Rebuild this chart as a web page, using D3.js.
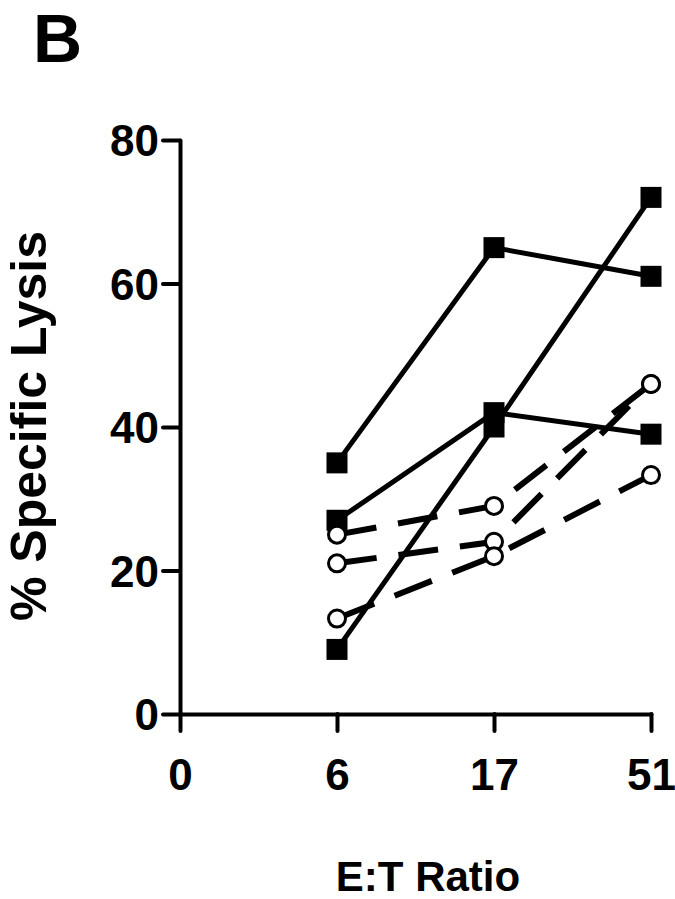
<!DOCTYPE html>
<html>
<head>
<meta charset="utf-8">
<script src="https://cdn.jsdelivr.net/npm/d3@7"></script>
<style>
  body { margin: 0; background: #fff; }
  svg text { font-family: "Liberation Sans", Arial, sans-serif; font-weight: bold; fill: #000; }
</style>
</head>
<body>
<svg id="chart"></svg>
<script>
// E:T ratios on the x axis (categorical spacing)
const ratios = ['0', '6', '17', '51'];
const yTicks = [0, 20, 40, 60, 80];

// filled squares, solid lines
const solidSeries = [
    [35, 65, 61],
    [27, 42, 39],
    [9, 40, 72]
];
// open circles, dashed lines
const dashedSeries = [
    [25, 29, 46],
    [21, 24, 46],
    [13.3, 22, 33.3]
];
const pointRatios = ['6', '17', '51'];

const width = 675, height = 899;
const svg = d3.select('#chart')
    .attr('width', width)
    .attr('height', height);

const xScale = d3.scalePoint()
    .domain(ratios)
    .range([180, 651]);

const yScale = d3.scaleLinear()
    .domain([0, 80])
    .range([714, 140]);

// axes
const xAxis = d3.axisBottom(xScale)
    .tickSize(17)
    .tickSizeOuter(0)
    .tickPadding(28);

const yAxis = d3.axisLeft(yScale)
    .tickValues(yTicks)
    .tickSize(17)
    .tickSizeOuter(0)
    .tickPadding(4);

const xAxisG = svg.append('g')
    .attr('transform', `translate(0,${yScale(0)})`)
    .call(xAxis);

const yAxisG = svg.append('g')
    .attr('transform', `translate(${xScale('0')},0)`)
    .call(yAxis);

[xAxisG, yAxisG].forEach(g => {
    g.selectAll('path, line')
        .attr('stroke', '#000')
        .attr('stroke-width', 4)
        .attr('stroke-linecap', 'round');
    g.selectAll('text')
        .style('font-size', '44px')
        .attr('fill', '#000');
});
yAxisG.selectAll('text').attr('dy', '0.36em');

// lines
const line = d3.line()
    .x((d, i) => xScale(pointRatios[i]))
    .y(d => yScale(d));

svg.append('g').selectAll('path')
    .data(dashedSeries)
    .join('path')
    .attr('d', line)
    .attr('fill', 'none')
    .attr('stroke', '#000')
    .attr('stroke-width', 6)
    .attr('stroke-dasharray', '40,22');

svg.append('g').selectAll('path')
    .data(solidSeries)
    .join('path')
    .attr('d', line)
    .attr('fill', 'none')
    .attr('stroke', '#000')
    .attr('stroke-width', 5);

// markers
const sq = 21;
solidSeries.forEach(s => {
    svg.append('g').selectAll('rect')
        .data(s)
        .join('rect')
        .attr('x', (d, i) => xScale(pointRatios[i]) - sq / 2)
        .attr('y', d => yScale(d) - sq / 2)
        .attr('width', sq)
        .attr('height', sq)
        .attr('fill', '#000');
});

dashedSeries.forEach(s => {
    svg.append('g').selectAll('circle')
        .data(s)
        .join('circle')
        .attr('cx', (d, i) => xScale(pointRatios[i]))
        .attr('cy', d => yScale(d))
        .attr('r', 8.5)
        .attr('fill', '#fff')
        .attr('stroke', '#000')
        .attr('stroke-width', 3);
});

// labels
svg.append('text')
    .attr('x', 33)
    .attr('y', 62)
    .text('B')
    .style('font-size', '68px');

svg.append('text')
    .attr('x', 428)
    .attr('y', 891)
    .attr('text-anchor', 'middle')
    .text('E:T Ratio')
    .style('font-size', '42px');

svg.append('text')
    .attr('transform', 'translate(46,426) rotate(-90)')
    .attr('text-anchor', 'middle')
    .text('% Specific Lysis')
    .style('font-size', '50px');
</script>
</body>
</html>
